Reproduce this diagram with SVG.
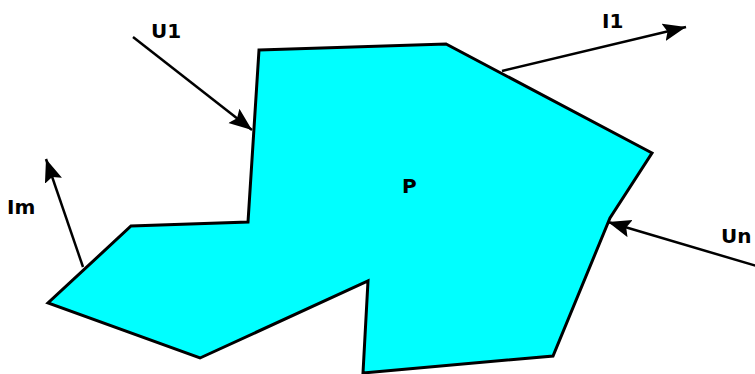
<svg xmlns="http://www.w3.org/2000/svg" width="755" height="374" viewBox="0 0 755 374">
<style>
.shape{fill:#00ffff;stroke:#000;stroke-width:3;stroke-linejoin:miter}
.arrow{fill:none;stroke:#000;stroke-width:2.5;marker-end:url(#head)}
.lbl{font-family:"DejaVu Sans","Liberation Sans",sans-serif;font-weight:bold;font-size:20px;fill:#000}
</style>
<defs>
<marker id="head" markerUnits="userSpaceOnUse" markerWidth="26" markerHeight="20" refX="23" refY="9" orient="auto">
<path d="M0,0 L23,9 L0,18 L4,9 Z" fill="#000"/>
</marker>
</defs>
<rect width="755" height="374" fill="#fff"/>
<g id="P">
<polygon class="shape" points="259,50 446,44 652,153 610,218 553,356 363,373 368,281 200,358 48,303 131,226 248,222"/>
<text class="lbl" x="402" y="193">P</text>
</g>
<g id="connectors">
<line id="U1-arrow" class="arrow" x1="133" y1="37" x2="252" y2="130"/>
<line id="I1-arrow" class="arrow" x1="502" y1="71" x2="686" y2="27"/>
<line id="Im-arrow" class="arrow" x1="83" y1="267" x2="46" y2="159"/>
<line id="Un-arrow" class="arrow" x1="760" y1="267" x2="608" y2="222"/>
</g>
<g id="U1"><text class="lbl" x="151" y="38">U1</text></g>
<g id="I1"><text class="lbl" x="602" y="28">I1</text></g>
<g id="Im"><text class="lbl" x="7" y="214">Im</text></g>
<g id="Un"><text class="lbl" x="721" y="243">Un</text></g>
</svg>
